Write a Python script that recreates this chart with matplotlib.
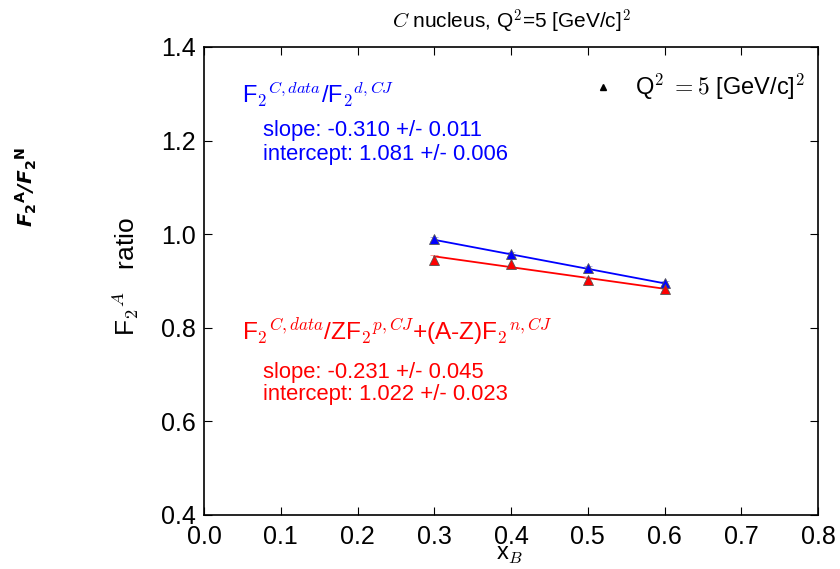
import matplotlib
matplotlib.use("Agg")
import matplotlib.pyplot as plt
import numpy as np

plt.rcParams['font.family'] = ['Liberation Sans', 'DejaVu Sans']
plt.rcParams['mathtext.fontset'] = 'cm'

x_vals = [0.3, 0.4, 0.5, 0.6]
blue_ratio = [0.990, 0.958, 0.927, 0.896]
blue_err = [0.004, 0.004, 0.004, 0.004]
red_ratio = [0.945, 0.937, 0.903, 0.883]
red_err = [0.011, 0.009, 0.005, 0.004]

blue_slope, blue_intercept = -0.310, 1.081
red_slope, red_intercept = -0.231, 1.022

x_ticks = [0.0, 0.1, 0.2, 0.3, 0.4, 0.5, 0.6, 0.7, 0.8]
y_ticks = [0.4, 0.6, 0.8, 1.0, 1.2, 1.4]

fig = plt.figure(figsize=(8.4, 5.69), dpi=100)
ax = fig.add_axes([204/840, 1-515/569, (818-204)/840, (515-47)/569])

fx = np.array([x_vals[0], x_vals[-1]])
ax.plot(fx, blue_intercept + blue_slope*fx, color='blue', lw=1.3, zorder=2)
ax.plot(fx, red_intercept + red_slope*fx, color='red', lw=1.3, zorder=2)

ax.errorbar(x_vals, blue_ratio, yerr=blue_err, fmt='^', color='blue', mfc='blue',
            mec='#555555', mew=0.6, ms=7, ecolor='#9999ff', elinewidth=1, capsize=3, zorder=3)
ax.errorbar(x_vals, red_ratio, yerr=red_err, fmt='^', color='red', mfc='red',
            mec='#555555', mew=0.6, ms=7, ecolor='#ff8888', elinewidth=1, capsize=3, zorder=3)

ax.set_xlim(0.0, 0.8)
ax.set_ylim(0.4, 1.4)
ax.set_xticks(x_ticks)
ax.set_yticks(y_ticks)
ax.set_xticklabels([f"{t:.1f}" for t in x_ticks])
ax.set_yticklabels([f"{t:.1f}" for t in y_ticks])
ax.tick_params(direction='in', length=6, width=0.8, labelsize=18, top=True, right=True,
               pad=6, colors='black')
ax.tick_params(axis='x', pad=7)
for s in ax.spines.values():
    s.set_linewidth(1.2)

# legend entry
ax.plot([0.52], [1.315], marker='^', color='black', ms=5, ls='none')
ax.text(0.562, 1.297, r"Q$^\mathsf{2}$ $=5$ [GeV/c]$^\mathsf{2}$", fontsize=17, va='baseline', ha='left')

# annotations
ax.text(0.049, 1.280, r"F$_\mathsf{2}$$^{C,data}$/F$_\mathsf{2}$$^{d,CJ}$", color='blue',
        fontsize=17, va='baseline')
ax.text(0.077, 1.210, "slope: -0.310 +/- 0.011", color='blue', fontsize=15.8, va='baseline')
ax.text(0.077, 1.159, "intercept: 1.081 +/- 0.006", color='blue', fontsize=15.8, va='baseline')

ax.text(0.049, 0.774, r"F$_\mathsf{2}$$^{C,data}$/ZF$_\mathsf{2}$$^{p,CJ}$+(A-Z)F$_\mathsf{2}$$^{n,CJ}$",
        color='red', fontsize=17.6, va='baseline')
ax.text(0.077, 0.693, "slope: -0.231 +/- 0.045", color='red', fontsize=15.8, va='baseline')
ax.text(0.077, 0.646, "intercept: 1.022 +/- 0.023", color='red', fontsize=15.8, va='baseline')

ax.set_title(r"$C$ nucleus, Q$^\mathsf{2}$=5 [GeV/c]$^\mathsf{2}$", fontsize=15, pad=13)

fig.text(510/840, 1-555/569, r"x$_B$", fontsize=17, ha='center', va='center')
fig.text(125/840, 1-276/569, r"F$_\mathsf{2}$$^A$   ratio", fontsize=19, rotation=90,
         ha='center', va='center')
fig.text(26/840, 1-187/569, r"F$_\mathbf{2}$$^\mathbf{A}$/F$_\mathbf{2}$$^\mathbf{N}$",
         fontsize=14.5, rotation=90, ha='center', va='center', fontweight='bold', style='italic',
         family=['DejaVu Sans'], math_fontfamily='dejavusans')

fig.savefig("out.png", dpi=100)
